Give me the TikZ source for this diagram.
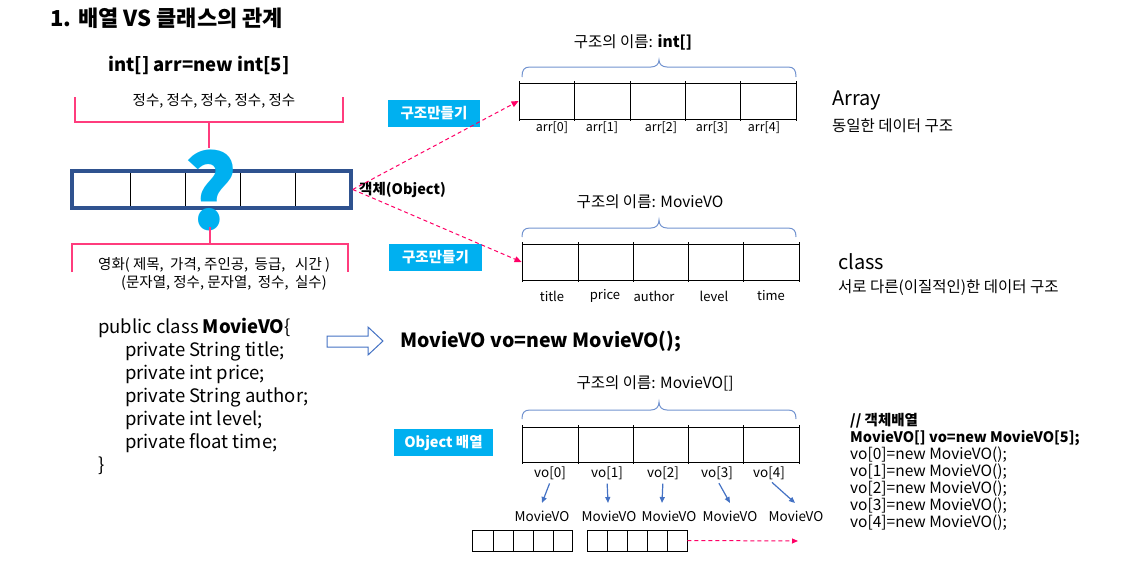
\documentclass[tikz,border=0pt]{standalone}
\usepackage{fontspec}
\setmainfont{Noto Sans CJK KR}
\usetikzlibrary{arrows.meta}
\definecolor{qcyan}{RGB}{0,176,240}
\definecolor{boxblue}{RGB}{47,82,143}
\definecolor{pinkl}{RGB}{255,60,125}
\definecolor{dashpink}{RGB}{255,0,102}
\definecolor{braceblue}{RGB}{114,147,207}
\definecolor{arrowblue}{RGB}{68,114,196}
\newcommand\fs[1]{\fontsize{#1}{#1}\selectfont}
\begin{document}
\begin{tikzpicture}[x=1pt,y=-1pt,
  lbl/.style={inner sep=0pt},
  cell/.style={draw=black, line width=0.9pt, inner sep=0pt},
  divline/.style={draw=black, line width=0.9pt},
  bracketline/.style={draw=pinkl, line width=1.1pt},
  pinkdash/.style={draw=dashpink, line width=1pt, dash pattern=on 4pt off 3pt, -{Triangle[length=7pt,width=6pt]}},
  bracestyle/.style={draw=braceblue, line width=1pt},
  tagbox/.style={fill=qcyan, text=white, font=\fs{14.5}\bfseries, inner sep=0pt, minimum height=27pt},
  bluearrow/.style={draw=arrowblue, line width=1.2pt, -{Triangle[length=6pt,width=5pt]}, shorten <=4pt},
  codeline/.style={anchor=base west, inner sep=0pt, font=\fs{18.5}},
  rcode/.style={anchor=base west, inner sep=0pt, font=\fs{15.5}}
]
\useasboundingbox (0,0) rectangle (1128,573);

% title
\node[lbl, anchor=west, font=\fs{22}\bfseries] (title) at (50,18) {1. 배열 VS 클래스의 관계};
\node[lbl, font=\fs{18.5}\bfseries] (intdecl) at (199,65) {int[] arr=new int[5]};

% top pink bracket
\node[lbl, font=\fs{14.5}] (jungsu) at (214,101) {정수, 정수, 정수, 정수, 정수};
\draw[bracketline] (75,97) -- (75,122) -- (343,122) -- (343,97);
\draw[bracketline] (209,122) -- (209,148);

% main box with question mark
\foreach \x in {130,185,240,295} \draw[divline] (\x,171) -- (\x,208);
\node[draw=boxblue, line width=3.5pt, minimum width=279pt, minimum height=37pt, inner sep=0pt] (qbox) at (211.5,189.5) {};
\node[lbl, text=qcyan, font=\fs{102}\bfseries] (qmark) at (211,190) {?};
\draw[bracketline] (210,227) -- (210,244);

% bottom pink bracket
\draw[bracketline] (72,272) -- (72,244) -- (348,244) -- (348,272);
\node[lbl, anchor=west, font=\fs{14.5}] (movie1) at (98,265) {영화( 제목,\ \ 가격, 주인공,\ \ 등급,\ \ \ 시간 )};
\node[lbl, anchor=west, font=\fs{14.5}] (movie2) at (121,283) {(문자열, 정수, 문자열,\ \ 정수,\ \ 실수)};

% object label
\node[lbl, anchor=west, font=\fs{14.5}\bfseries] (objlbl) at (359,190) {객체(Object)};

% tag boxes
\node[tagbox, minimum width=92pt] (tag1) at (434,113.5) {구조만들기};
\node[tagbox, minimum width=93pt] (tag2) at (435.5,257) {구조만들기};
\node[tagbox, minimum width=99pt] (tag3) at (443.5,442.5) {Object 배열};

% top array
\node[cell, minimum width=277pt, minimum height=36pt] (arrA) at (657.5,101) {};
\foreach \x in {574,630,685,740} \draw[divline] (\x,81) -- (\x,121);
\draw[divline] (519,81) -- (519,121);
\draw[divline] (796,81) -- (796,121);
\draw[bracestyle] (522,77) .. controls (522,70) and (524,67) .. (530,67) -- (651,67) .. controls (656,67) and (659,64) .. (659,60) .. controls (659,64) and (662,67) .. (667,67) -- (788,67) .. controls (794,67) and (796,70) .. (796,77);
\node[lbl, font=\fs{15.5}] (nameA) at (633,42) {구조의 이름: \textbf{int[]}};
\foreach \x/\t [count=\i from 0] in {552/arr[0],602/arr[1],661/arr[2],712/arr[3],764/arr[4]}
  \node[lbl, font=\fs{12.5}] (a\i) at (\x,128) {\t};

% middle array
\node[cell, minimum width=277pt, minimum height=36pt] (arrC) at (660.5,262) {};
\foreach \x in {578,633,688,743} \draw[divline] (\x,242) -- (\x,282);
\draw[divline] (522,242) -- (522,282);
\draw[divline] (799,242) -- (799,282);
\draw[bracestyle] (522,237) .. controls (522,231) and (524,228) .. (530,228) -- (651,228) .. controls (656,228) and (659,225) .. (659,220) .. controls (659,225) and (662,228) .. (667,228) -- (788,228) .. controls (794,228) and (796,231) .. (796,237);
\node[lbl, font=\fs{15.5}] (nameC) at (650,202) {구조의 이름: MovieVO};
\foreach \x/\t [count=\i from 0] in {552/title,605/price,654/author,714/level,771/time}
  \node[lbl, font=\fs{13}] (c\i) at (\x,296) {\t};

% right descriptions
\node[lbl, anchor=west, font=\fs{20}] (arrword) at (832,101) {Array};
\node[lbl, anchor=west, font=\fs{15.5}] (arrdesc) at (832,126) {동일한 데이터 구조};
\node[lbl, anchor=west, font=\fs{20}] (clsword) at (838,262) {class};
\node[lbl, anchor=west, font=\fs{15.5}] (clsdesc) at (838,288) {서로 다른(이질적인)한 데이터 구조};

% dashed connectors
\draw[pinkdash] (qbox.east) -- (arrA.west);
\draw[pinkdash] (qbox.east) -- (arrC.west);

% code block
\node[codeline] (code1) at (98,333) {public class \textbf{MovieVO}\{};
\node[codeline] (code2) at (125,356) {private String title;};
\node[codeline] (code3) at (125,379) {private int price;};
\node[codeline] (code4) at (125,402) {private String author;};
\node[codeline] (code5) at (125,425) {private int level;};
\node[codeline] (code6) at (125,448) {private float time;};
\node[codeline] (code7) at (98,471) {\}};

% hollow arrow
\draw[draw=arrowblue, fill=white, line width=1pt] (327,336) -- (368,336) -- (368,327) -- (383,341) -- (368,355) -- (368,347) -- (327,347) -- cycle;
\node[lbl, anchor=west, font=\fs{19.5}\bfseries] (newvo) at (400,342) {MovieVO vo=new MovieVO();};

% bottom array
\node[cell, minimum width=277pt, minimum height=35pt] (arrV) at (660.5,444.5) {};
\foreach \x in {578,633,688,743} \draw[divline] (\x,425) -- (\x,464);
\draw[divline] (522,425) -- (522,464);
\draw[divline] (799,425) -- (799,464);
\draw[bracestyle] (522,419) .. controls (522,413) and (524,410) .. (530,410) -- (651,410) .. controls (656,410) and (659,407) .. (659,402) .. controls (659,407) and (662,410) .. (667,410) -- (788,410) .. controls (794,410) and (796,413) .. (796,419);
\node[lbl, font=\fs{15.5}] (nameV) at (655,383) {구조의 이름: MovieVO[]};
\foreach \x/\t [count=\i from 0] in {550/vo[0],607/vo[1],663/vo[2],717/vo[3],769/vo[4]}
  \node[lbl, font=\fs{13.5}] (v\i) at (\x,473) {\t};
\foreach \x [count=\i from 0] in {542,609,669,730,796}
  \node[lbl, font=\fs{13.5}] (m\i) at (\x,516) {MovieVO};
\coordinate (t0) at (542,503);
\coordinate (t1) at (608,503);
\coordinate (t2) at (662,503);
\coordinate (t3) at (730,503);
\coordinate (t4) at (795,503);
\draw[bluearrow] ([xshift=1pt]v0.south) -- (t0);
\draw[bluearrow] (v1.south) -- (t1);
\draw[bluearrow] (v2.south) -- (t2);
\draw[bluearrow] (v3.south) -- (t3);
\draw[bluearrow] (v4.south) -- (t4);

% small arrays
\node[cell, minimum width=100pt, minimum height=21pt] (sA) at (522,540.5) {};
\foreach \x in {493,513,533,553} \draw[divline] (\x,530) -- (\x,551);
\node[cell, minimum width=100pt, minimum height=21pt] (sB) at (637,540.5) {};
\foreach \x in {607,627,647,667} \draw[divline] (\x,530) -- (\x,551);
\coordinate (sEnd) at (798,541);
\draw[pinkdash, -{Triangle[length=6pt,width=5pt]}] (sB.east) -- (sEnd);

% right code
\node[rcode, font=\fs{14.5}\bfseries] (r1) at (850,425) {// 객체배열};
\node[rcode, font=\fs{14.5}\bfseries] (r2) at (850,442) {MovieVO[] vo=new MovieVO[5];};
\node[rcode] (r3) at (850,459) {vo[0]=new MovieVO();};
\node[rcode] (r4) at (850,476) {vo[1]=new MovieVO();};
\node[rcode] (r5) at (850,493) {vo[2]=new MovieVO();};
\node[rcode] (r6) at (850,510) {vo[3]=new MovieVO();};
\node[rcode] (r7) at (850,527) {vo[4]=new MovieVO();};
\end{tikzpicture}
\end{document}
